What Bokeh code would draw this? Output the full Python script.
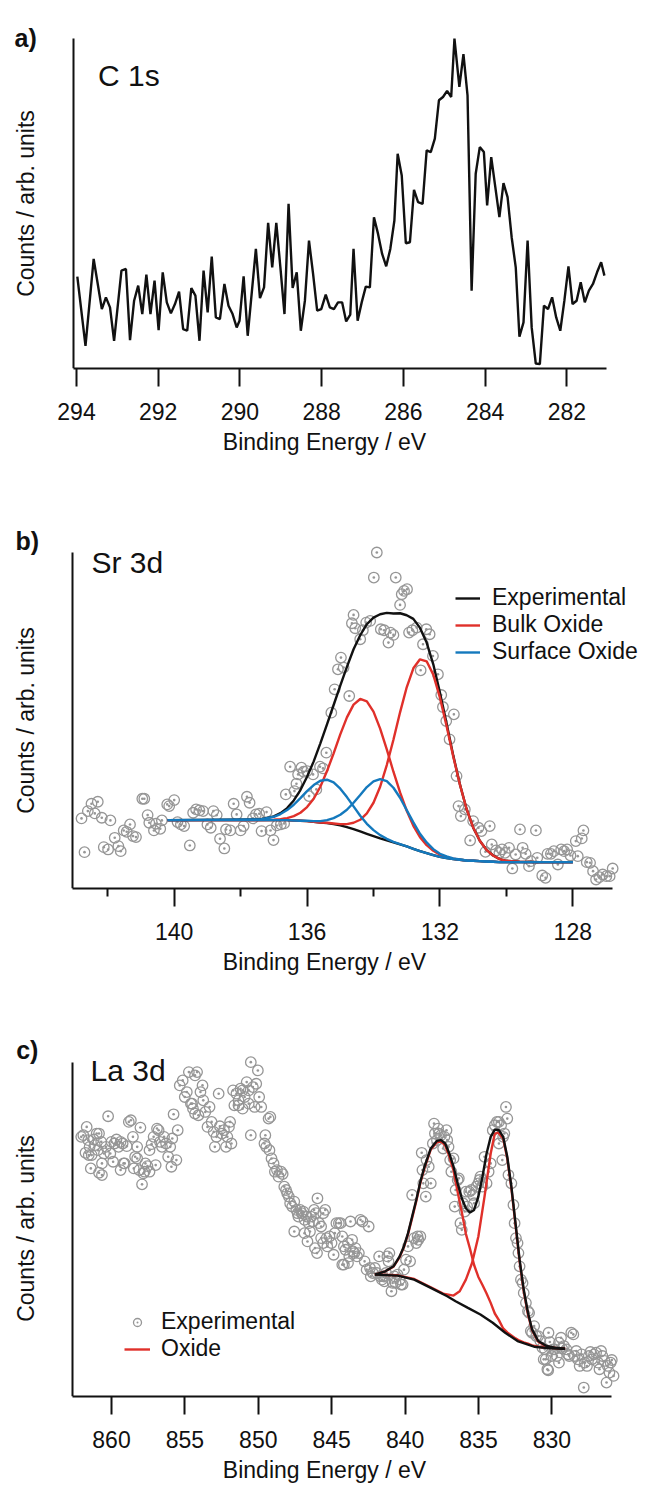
import math
from bokeh.plotting import figure
from bokeh.layouts import column
from bokeh.models import Range1d, FixedTicker, Label, Legend, LegendItem
from bokeh.embed import file_html
from bokeh.resources import INLINE

FONT = "Liberation Sans"
INK = "#111111"
RED = "#e0302a"
BLUE = "#1479bd"
GREY = "#969696"
LW = 2.4

# ---------------- a) C 1s ----------------
c1s_energy = [293.98, 293.78, 293.58, 293.38, 293.28, 293.18, 293.08, 292.90, 292.79, 292.69,
              292.59, 292.49, 292.39, 292.29, 292.19, 292.09, 291.99, 291.89, 291.79, 291.69,
              291.59, 291.49, 291.39, 291.29, 291.19, 291.09, 290.99, 290.89, 290.79, 290.69,
              290.59, 290.49, 290.38, 290.28, 290.18, 290.08, 290.01, 289.91, 289.81, 289.61,
              289.51, 289.41, 289.31, 289.21, 289.11, 289.01, 288.91, 288.81, 288.71, 288.61,
              288.51, 288.41, 288.31, 288.21, 288.11, 288.01, 287.90, 287.80, 287.70, 287.60,
              287.50, 287.40, 287.30, 287.22, 287.12, 287.02, 286.92, 286.82, 286.72, 286.62,
              286.52, 286.42, 286.32, 286.22, 286.14, 286.04, 285.94, 285.84, 285.74, 285.64,
              285.53, 285.43, 285.33, 285.23, 285.13, 285.03, 284.93, 284.83, 284.75, 284.63,
              284.53, 284.43, 284.33, 284.23, 284.13, 284.03, 283.95, 283.85, 283.75, 283.65,
              283.55, 283.45, 283.35, 283.25, 283.16, 283.06, 282.96, 282.86, 282.76, 282.66,
              282.56, 282.46, 282.36, 282.26, 282.16, 282.06, 281.96, 281.86, 281.76, 281.66,
              281.56, 281.46, 281.36, 281.26, 281.16, 281.08]
c1s_counts = [275, 68, 328, 178, 213, 183, 83, 293, 298, 85,
              203, 248, 163, 281, 163, 263, 115, 288, 198, 165,
              193, 230, 118, 113, 241, 218, 83, 293, 168, 335,
              153, 148, 253, 188, 163, 123, 143, 276, 98, 358,
              211, 243, 436, 303, 436, 303, 163, 493, 241, 288,
              113, 203, 383, 283, 173, 178, 221, 183, 178, 198,
              198, 141, 161, 358, 143, 198, 245, 243, 453, 403,
              343, 306, 358, 443, 643, 578, 375, 378, 535, 498,
              493, 653, 648, 688, 803, 813, 831, 813, 988, 843,
              941, 818, 233, 583, 663, 648, 488, 633, 543, 453,
              555, 513, 393, 303, 95, 138, 383, 123, 15, 13,
              188, 178, 213, 153, 113, 203, 306, 193, 203, 258,
              198, 233, 253, 288, 318, 278]
c1s_ticks = [294, 292, 290, 288, 286, 284, 282]

# ---------------- b) Sr 3d ----------------
sr_pts_energy = [142.79, 142.70, 142.60, 142.49, 142.39, 142.30, 142.18, 142.12, 141.99, 141.92,
                 141.79, 141.68, 141.61, 141.52, 141.43, 141.33, 141.24, 141.15, 140.96, 140.90,
                 140.80, 140.75, 140.61, 140.55, 140.42, 140.37, 140.21, 140.15, 140.00, 139.90,
                 139.80, 139.70, 139.53, 139.43, 139.34, 139.24, 139.13, 139.00, 138.90, 138.82,
                 138.72, 138.62, 138.49, 138.44, 138.31, 138.21, 138.12, 138.00, 137.91, 137.81,
                 137.73, 137.63, 137.54, 137.44, 137.37, 137.22, 137.10, 137.01, 136.91, 136.79,
                 136.69, 136.64, 136.51, 136.38, 136.32, 136.27, 136.17, 136.10, 136.00, 135.94,
                 135.82, 135.72, 135.61, 135.52, 135.42, 135.27, 135.17, 135.07, 134.98, 134.90,
                 134.73, 134.65, 134.60, 134.55, 134.40, 134.32, 134.22, 134.10, 133.99, 133.90,
                 133.78, 133.68, 133.55, 133.49, 133.40, 133.33, 133.20, 133.15, 133.08, 132.99,
                 132.93, 132.83, 132.70, 132.58, 132.51, 132.41, 132.31, 132.21, 132.06, 131.96,
                 131.91, 131.81, 131.71, 131.58, 131.50, 131.44, 131.37, 131.25, 131.09, 131.00,
                 130.84, 130.75, 130.63, 130.50, 130.44, 130.31, 130.21, 130.13, 130.04, 129.92,
                 129.82, 129.72, 129.59, 129.51, 129.42, 129.32, 129.26, 129.11, 129.07, 128.92,
                 128.82, 128.76, 128.66, 128.57, 128.45, 128.35, 128.26, 128.17, 128.07, 127.91,
                 127.85, 127.73, 127.68, 127.58, 127.48, 127.39, 127.30, 127.20, 127.10, 126.99,
                 126.89, 126.80]
sr_pts_counts = [210, 109, 232, 254, 225, 260, 212, 124, 117, 204,
                 152, 127, 112, 174, 170, 192, 157, 154, 269, 269,
                 220, 197, 174, 194, 179, 204, 252, 247, 265, 199,
                 192, 187, 129, 227, 237, 234, 232, 192, 182, 232,
                 220, 149, 120, 177, 174, 254, 222, 174, 187, 275,
                 257, 210, 222, 224, 172, 229, 174, 145, 189, 192,
                 195, 282, 365, 292, 314, 342, 362, 350, 352, 277,
                 342, 297, 365, 360, 407, 527, 597, 657, 692, 662,
                 577, 795, 820, 780, 747, 774, 797, 802, 932, 1007,
                 777, 774, 737, 767, 760, 932, 850, 882, 892, 897,
                 767, 774, 782, 654, 732, 777, 762, 697, 642, 580,
                 544, 502, 447, 522, 337, 247, 217, 237, 144, 202,
                 182, 172, 110, 187, 132, 114, 107, 117, 107, 122,
                 60, 102, 177, 122, 104, 67, 82, 174, 92, 39,
                 32, 104, 104, 112, 72, 117, 112, 117, 99, 142,
                 97, 150, 174, 79, 77, 52, 27, 34, 42, 37,
                 37, 60]
sr_fit_energy = [140.2, 137.4, 137.0, 136.8, 136.6, 136.4, 136.2, 136.0, 135.8, 135.6,
                 135.4, 135.2, 135.0, 134.8, 134.6, 134.4, 134.2, 134.0, 133.8, 133.6,
                 133.4, 133.2, 133.0, 132.8, 132.6, 132.4, 132.2, 132.0, 131.8, 131.6,
                 131.4, 131.2, 131.0, 130.8, 130.6, 130.4, 130.2, 130.0, 129.6, 129.0, 128.0]
sr_background = [205, 205, 205, 205, 205, 204, 203, 202, 200, 198,
                 196, 193, 189, 184, 178, 171, 164, 157, 150, 144,
                 138, 132, 126, 119, 112, 106, 100, 95, 91, 88,
                 86, 84, 83, 82, 81, 80, 79, 79, 79, 79, 79]
sr_bulk_1 = [205, 205, 206, 208, 211, 217, 227, 244, 269, 305,
             352, 405, 462, 513, 551, 568, 561, 530, 479, 417,
             350, 288, 233, 188, 154, 130, 113, 101, 94, 89,
             86, 84, 83, 82, 81, 80, 79, 79, 79, 79, 79]
sr_bulk_2 = [205, 205, 205, 205, 205, 204, 203, 202, 200, 198,
             197, 195, 193, 193, 197, 206, 225, 257, 305, 370,
             446, 528, 603, 660, 687, 681, 641, 572, 487, 396,
             312, 239, 183, 143, 116, 99, 88, 83, 80, 79, 79]
sr_surface_1 = [205, 207, 215, 223, 235, 251, 271, 292, 310, 323,
                326, 318, 299, 274, 246, 218, 194, 175, 160, 149,
                140, 133, 126, 119, 112, 106, 100, 95, 91, 88,
                86, 84, 83, 82, 81, 80, 79, 79, 79, 79, 79]
sr_surface_2 = [205, 205, 205, 205, 205, 204, 203, 203, 202, 202,
                205, 211, 221, 236, 257, 280, 304, 321, 328, 322,
                302, 272, 235, 198, 164, 138, 118, 104, 96, 90,
                87, 84, 83, 82, 81, 80, 79, 79, 79, 79, 79]
sr_envelope = [205, 207, 216, 226, 241, 264, 295, 335, 381, 435,
               492, 550, 608, 664, 717, 759, 792, 812, 822, 826,
               824, 825, 819, 808, 781, 737, 672, 587, 495, 399,
               313, 239, 183, 143, 116, 99, 88, 83, 80, 79, 79]
sr_ticks = [140, 136, 132, 128]
sr_minor_ticks = [142, 138, 134, 130]

# ---------------- c) La 3d ----------------
la_points = [
    (862.06, 782), (861.92, 787), (861.69, 812), (861.58, 772), (861.77, 734), (861.55, 727),
    (861.35, 727), (861.21, 774), (861.13, 757), (861.01, 792), (860.85, 792), (860.70, 767),
    (860.65, 702), (861.41, 687), (860.85, 674), (860.65, 667), (860.37, 752), (860.23, 844),
    (860.08, 732), (860.00, 767), (859.89, 707), (859.80, 762), (859.66, 774), (859.52, 752),
    (859.38, 767), (859.24, 762), (859.10, 702), (858.96, 754), (858.82, 827), (858.68, 832),
    (858.54, 782), (858.39, 722), (858.25, 752), (858.11, 682), (858.03, 810), (857.92, 639),
    (857.83, 672), (857.69, 702), (857.55, 694), (857.41, 742), (857.27, 760), (857.13, 782),
    (856.99, 697), (856.90, 807), (856.79, 802), (856.70, 767), (856.56, 752), (856.42, 782),
    (856.28, 762), (856.14, 722), (856.00, 752), (855.92, 692), (855.77, 850), (855.58, 712),
    (855.49, 802), (855.86, 777), (857.41, 677), (857.75, 677), (858.48, 687), (858.25, 717),
    (859.38, 682), (859.18, 702), (860.51, 732), (860.93, 742), (861.49, 752),
    (855.35, 937), (855.15, 952), (855.01, 902), (854.87, 917), (854.73, 977), (854.59, 882),
    (854.45, 867), (854.31, 967), (854.17, 977), (854.08, 847), (853.94, 917), (853.80, 937),
    (853.75, 892), (853.61, 857), (853.46, 812), (853.32, 872), (853.18, 827), (853.04, 797),
    (852.96, 752), (852.85, 782), (852.70, 912), (852.62, 814), (852.48, 792), (852.34, 802),
    (852.20, 752), (852.11, 782), (852.00, 812), (851.92, 827), (851.83, 762), (851.72, 922),
    (851.63, 877), (851.49, 912), (851.35, 892), (851.21, 927), (851.07, 867), (850.93, 902),
    (850.79, 947), (850.65, 922), (850.51, 1007), (850.37, 932), (850.25, 872), (850.14, 942),
    (850.03, 982), (849.94, 902), (849.80, 872), (850.51, 787), (849.52, 787), (849.30, 837),
    (849.18, 842), (850.65, 882), (851.07, 922), (851.35, 877), (854.31, 852), (854.51, 882),
    (849.58, 762), (849.46, 752), (849.24, 742), (849.10, 717), (848.96, 702), (848.87, 677),
    (848.73, 682), (848.62, 662), (848.45, 677), (848.34, 670), (848.23, 632), (848.11, 622),
    (848.03, 612), (847.92, 602), (847.83, 582), (847.69, 572), (847.55, 587), (847.41, 562),
    (847.32, 552), (847.27, 542), (847.15, 562), (847.04, 552), (846.93, 557), (846.85, 532),
    (846.70, 542), (846.56, 522), (846.48, 497), (846.42, 542), (846.28, 527), (846.20, 562),
    (846.08, 552), (845.97, 597), (845.86, 522), (845.72, 512), (845.58, 552), (845.44, 562),
    (845.35, 477), (847.55, 497), (846.85, 492), (846.65, 467), (846.14, 447), (846.00, 432),
    (845.72, 477), (845.58, 462), (845.30, 452), (845.15, 482), (845.01, 462), (844.87, 427),
    (844.79, 492), (844.68, 522), (844.51, 522), (844.39, 522), (844.28, 482), (844.17, 452),
    (844.06, 442), (843.89, 462), (843.80, 422), (843.72, 527), (843.61, 472), (843.55, 437),
    (843.38, 447), (843.27, 422), (843.15, 432), (843.04, 532), (842.90, 527), (842.76, 407),
    (842.62, 382), (842.48, 512), (842.39, 387), (844.17, 397), (844.28, 397), (843.89, 402),
    (843.46, 432),
    (842.34, 362), (842.20, 372), (842.06, 387), (841.92, 372), (841.77, 422), (841.69, 362),
    (841.58, 352), (841.49, 362), (841.41, 347), (841.30, 372), (841.21, 422), (841.13, 407),
    (841.07, 432), (840.93, 317), (840.85, 342), (840.73, 362), (840.65, 342), (840.51, 367),
    (840.37, 352), (840.28, 337), (840.17, 337), (840.08, 382), (839.94, 412), (839.80, 452),
    (839.66, 407), (839.52, 607), (839.38, 477), (839.24, 462), (839.15, 482), (839.10, 472),
    (838.96, 482), (838.87, 734), (838.82, 682), (838.76, 642), (838.59, 602), (838.54, 712),
    (838.39, 692), (838.25, 642), (838.11, 762), (838.03, 822), (837.97, 792), (837.83, 772),
    (837.75, 807), (837.69, 792), (837.55, 787), (837.41, 747), (837.32, 782), (837.18, 802),
    (837.13, 772), (837.04, 752), (836.93, 712), (836.85, 677), (836.70, 717), (836.62, 572),
    (836.56, 622), (836.42, 652), (836.34, 657), (836.23, 522), (836.14, 502), (836.06, 582),
    (835.94, 557), (835.86, 617), (835.77, 572), (835.63, 617), (835.49, 622), (835.38, 607),
    (835.30, 582), (835.15, 632), (835.01, 642), (834.93, 652), (834.87, 662), (834.73, 632),
    (834.59, 722), (834.45, 642), (834.31, 677), (834.17, 702), (834.03, 802), (833.89, 817),
    (833.75, 827), (833.61, 827), (833.46, 817), (833.32, 782), (833.24, 792), (833.13, 872),
    (833.04, 837), (833.38, 712), (833.61, 762), (832.96, 667), (832.76, 642), (832.62, 577),
    (832.54, 522), (832.45, 477), (832.34, 462), (832.28, 432), (832.20, 392), (832.11, 352),
    (832.00, 342), (831.92, 312), (831.77, 282), (831.63, 257), (831.55, 252), (831.44, 197),
    (831.35, 192), (831.21, 212), (831.07, 182), (830.93, 182), (830.79, 167), (830.65, 147),
    (830.56, 112), (830.42, 112), (830.31, 82), (830.23, 192), (830.14, 164), (830.03, 122),
    (829.92, 142), (829.80, 142), (829.66, 122), (829.52, 162), (829.38, 177), (829.30, 144),
    (829.18, 152), (829.01, 142), (828.90, 127), (828.82, 122), (828.68, 192), (828.54, 187),
    (828.45, 122), (828.34, 137), (828.23, 112), (828.11, 92), (827.97, 127), (827.83, 27),
    (827.75, 102), (827.61, 92), (827.49, 122), (827.38, 134), (827.27, 112), (827.13, 127),
    (826.99, 132), (826.85, 102), (826.76, 82), (826.65, 137), (826.56, 122), (826.42, 107),
    (826.28, 42), (826.20, 92), (826.08, 72), (826.00, 102), (825.92, 110), (825.80, 62),
    (830.25, 79), (830.48, 142), (829.52, 102),
]
la_env_energy = [842.06, 841.35, 840.79, 840.37, 840.08, 839.80, 839.52, 839.24, 838.96, 838.68,
                 838.25, 837.83, 837.55, 837.27, 836.99, 836.70, 836.42, 836.14, 835.86, 835.58,
                 835.30, 835.01, 834.73, 834.45, 834.17, 833.89, 833.61, 833.32, 833.04, 832.76,
                 832.48, 832.20, 831.92, 831.63, 831.35, 830.93, 830.37, 829.80, 829.10]
la_envelope = [367, 377, 392, 422, 452, 492, 542, 592, 647, 692,
               747, 770, 772, 762, 732, 692, 642, 597, 567, 554,
               562, 602, 662, 732, 782, 804, 802, 782, 722, 632,
               522, 412, 322, 252, 202, 167, 152, 147, 144]
la_oxide_a = [367, 377, 391, 420, 450, 489, 538, 588, 643, 688,
              744, 766, 768, 756, 724, 680, 616, 556, 490, 445,
              396, 360, 336, 310, 282, 250, 230, 205, 193, 184,
              175, 168, 163, 159, 154, 150, 147, 146, 144]
la_ox2_energy = [842.06, 840.51, 839.38, 838.25, 837.41, 836.70, 836.28, 835.86, 835.44, 835.01,
                 834.59, 834.17, 833.89, 833.66, 833.32, 833.04, 832.76, 832.48, 832.20, 831.92,
                 831.63, 831.35, 830.93, 830.37, 829.80, 829.10]
la_oxide_b = [367, 365, 354, 329, 310, 304, 317, 352, 402, 482,
              602, 732, 792, 795, 777, 717, 627, 517, 407, 317,
              247, 200, 165, 151, 146, 144]
la_bg_energy = [842.06, 840.51, 839.38, 838.25, 837.13, 836.56, 835.72, 834.87, 834.03, 833.18,
                832.34, 831.21, 830.08, 829.10]
la_background = [367, 364, 352, 327, 302, 287, 267, 247, 222, 192, 167, 150, 145, 144]
la_ticks = [860, 855, 850, 845, 840, 835, 830]


def make_panel(height, xr, yend, bottom, ticks, minor, xbounds, y_axis_at, ytop):
    # frame covers the whole panel except the bottom axis band
    p = figure(width=648, height=height, output_backend="svg", toolbar_location=None,
               x_range=Range1d(*xr), y_range=Range1d(0, yend),
               min_border_left=0, min_border_right=0, min_border_top=0,
               min_border_bottom=bottom)
    p.outline_line_color = None
    p.xgrid.visible = False
    p.ygrid.visible = False
    p.background_fill_color = "white"
    p.border_fill_color = "white"
    xa = p.xaxis[0]
    xa.ticker = FixedTicker(ticks=ticks, minor_ticks=minor)
    xa.bounds = xbounds
    xa.axis_line_width = 2
    xa.axis_line_color = INK
    xa.major_tick_line_width = 2
    xa.major_tick_line_color = INK
    xa.major_tick_out = 18
    xa.major_tick_in = 0
    xa.minor_tick_line_width = 2
    xa.minor_tick_line_color = INK
    xa.minor_tick_out = 8
    xa.minor_tick_in = 0
    xa.major_label_standoff = 16
    xa.major_label_text_font = FONT
    xa.major_label_text_font_size = "23px"
    xa.major_label_text_color = INK
    xa.axis_label = "Binding Energy / eV"
    xa.axis_label_text_font = FONT
    xa.axis_label_text_font_size = "23px"
    xa.axis_label_text_font_style = "normal"
    xa.axis_label_text_color = INK
    xa.axis_label_standoff = 6
    # vertical axis line drawn at its data position inside the frame
    ya = p.yaxis[0]
    ya.fixed_location = y_axis_at
    ya.ticker = FixedTicker(ticks=[])
    ya.bounds = (0, ytop)
    ya.axis_line_width = 2
    ya.axis_line_color = INK
    ya.major_tick_out = 0
    ya.major_tick_in = 0
    ya.minor_tick_out = 0
    ya.minor_tick_in = 0
    ya.major_label_standoff = 0
    ya.axis_label = None
    return p


def add_text(p, text, x, y, size, bold=False, angle=0.0, align="left", baseline="alphabetic"):
    p.add_layout(Label(x=x, y=y, x_units="screen", y_units="screen", text=text, angle=angle,
                       text_font=FONT, text_font_size=size,
                       text_font_style="bold" if bold else "normal",
                       text_color=INK, text_align=align, text_baseline=baseline))


def y_title(p, y):
    add_text(p, "Counts / arb. units", 25, y, "23px", angle=math.pi / 2,
             align="center", baseline="middle")


# ---- panel a ----
pa = make_panel(478, (295.860, 280.001), 1101.8, 110, c1s_ticks, [],
                (281.02, 294.081), 294.081, 988)
pa.line(c1s_energy, c1s_counts, line_color=INK, line_width=LW)
add_text(pa, "a)", 14, 330.7, "25px", bold=True)
add_text(pa, "C 1s", 97.5, 293, "30px")
y_title(pa, 165)

# ---- panel b ----
pb = make_panel(512, (145.229, 125.721), 1228.8, 102, sr_ticks, sr_minor_ticks,
                (126.8, 143.062), 143.062, 1007)
pb.scatter(sr_pts_energy, sr_pts_counts, marker="circle_dot", size=10.5,
           line_color=GREY, fill_color=None, line_width=1.3)
r_env = pb.line(sr_fit_energy, sr_envelope, line_color=INK, line_width=LW)
pb.line(sr_fit_energy, sr_background, line_color=INK, line_width=LW)
r_bulk = pb.line(sr_fit_energy, sr_bulk_1, line_color=RED, line_width=LW)
pb.line(sr_fit_energy, sr_bulk_2, line_color=RED, line_width=LW)
r_surf = pb.line(sr_fit_energy, sr_surface_1, line_color=BLUE, line_width=LW)
pb.line(sr_fit_energy, sr_surface_2, line_color=BLUE, line_width=LW)
leg_b = Legend(items=[LegendItem(label="Experimental", renderers=[r_env]),
                      LegendItem(label="Bulk Oxide", renderers=[r_bulk]),
                      LegendItem(label="Surface Oxide", renderers=[r_surf])],
               location=(455, 223), padding=0, margin=0, spacing=0,
               border_line_color=None, background_fill_alpha=0,
               glyph_width=25, glyph_height=20, label_standoff=12, label_height=20,
               label_text_font=FONT, label_text_font_size="23px", label_text_color=INK)
pb.add_layout(leg_b)
add_text(pb, "b)", 15, 348, "25px", bold=True)
add_text(pb, "Sr 3d", 91, 326.3, "30px")
y_title(pb, 168)

# ---- panel c ----
pc = make_panel(495, (867.561, 823.420), 1222.8, 87, la_ticks, [],
                (825.95, 862.657), 862.657, 1007)
r_pts = pc.scatter([e for e, _ in la_points], [c for _, c in la_points], marker="circle_dot",
                   size=10.5, line_color=GREY, fill_color=None, line_width=1.3)
r_ox = pc.line(la_env_energy, la_oxide_a, line_color=RED, line_width=LW)
pc.line(la_ox2_energy, la_oxide_b, line_color=RED, line_width=LW)
pc.line(la_bg_energy, la_background, line_color=INK, line_width=LW)
pc.line(la_env_energy, la_envelope, line_color=INK, line_width=LW)
leg_c = Legend(items=[LegendItem(label="Experimental", renderers=[r_pts]),
                      LegendItem(label="Oxide", renderers=[r_ox])],
               location=(124, 34), padding=0, margin=0, spacing=0,
               border_line_color=None, background_fill_alpha=0,
               glyph_width=26, glyph_height=20, label_standoff=11, label_height=20,
               label_text_font=FONT, label_text_font_size="23px", label_text_color=INK)
pc.add_layout(leg_c)
add_text(pc, "c)", 15.7, 347, "25px", bold=True)
add_text(pc, "La 3d", 90, 326.3, "30px")
y_title(pc, 168)

layout = column(pa, pb, pc, spacing=0)
open("out.html", "w").write(file_html(layout, INLINE))
